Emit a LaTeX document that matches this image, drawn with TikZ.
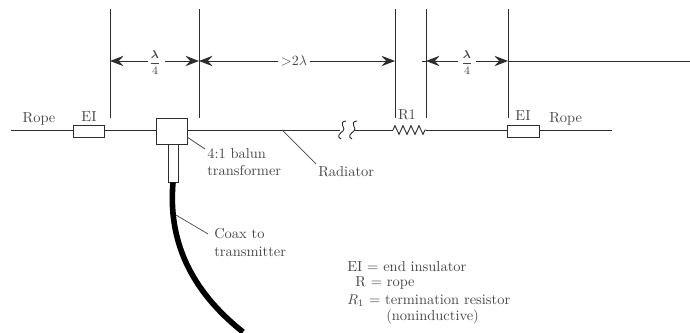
\documentclass[tikz,border=0pt]{standalone}
\usepackage{amsmath}
\usetikzlibrary{arrows.meta,decorations.pathmorphing}
\definecolor{wirecolor}{RGB}{45,45,45}
\definecolor{labelcolor}{RGB}{70,70,70}
\begin{document}
\begin{tikzpicture}[
    x=0.025cm, y=-0.025cm,
    wire/.style={draw=wirecolor, line width=0.65pt},
    tick/.style={draw=wirecolor, line width=0.7pt},
    leader/.style={draw=labelcolor, line width=0.5pt},
    dimarrow/.style={wire, -{Stealth[length=3.4mm, width=2.6mm, inset=1.2mm]}},
    insulator/.style={rectangle, draw=wirecolor, fill=white, line width=0.65pt,
        minimum width=0.78cm, minimum height=0.32cm, inner sep=0pt},
    balunbox/.style={rectangle, draw=wirecolor, fill=white, line width=0.7pt,
        minimum width=0.76cm, minimum height=0.65cm, inner sep=0pt},
    stubbox/.style={rectangle, draw=wirecolor, fill=white, line width=0.65pt,
        minimum width=0.25cm, minimum height=0.95cm, inner sep=0pt},
    textlabel/.style={font=\fontsize{10.3}{12}\selectfont, text=labelcolor, inner sep=0pt},
    notelabel/.style={textlabel, anchor=west},
    dimlabel/.style={font=\fontsize{10.3}{12}\selectfont, text=labelcolor, fill=white, inner sep=1pt},
    fraclabel/.style={font=\fontsize{8.5}{10}\selectfont, text=labelcolor, fill=white, inner sep=1pt}
]
\useasboundingbox (0,0) rectangle (690,333);

% ============================================================================
% MARCAS VERTICAIS
% ============================================================================
\foreach \name/\px in {a/110, b/199, c/395, d/426, e/508} {
    \coordinate (top_\name) at (\px, 9);
    \coordinate (bot_\name) at (\px, 118);
    \coordinate (dim_\name) at (\px, 61);
    \draw[tick] (top_\name) -- (bot_\name);
}
\coordinate (dim_dstart) at (422, 61);
\coordinate (dim_end) at (690, 61);

% ============================================================================
% COTAS
% ============================================================================
\node[fraclabel] (lab_q1) at (155, 62.5) {$\dfrac{\boldsymbol{\lambda}}{4}$};
\node[dimlabel] (lab_long) at (294, 61) {${>}2\lambda$};
\node[fraclabel] (lab_q2) at (467, 62.5) {$\dfrac{\boldsymbol{\lambda}}{4}$};

\coordinate (gap_q1l) at (148, 61);
\coordinate (gap_q1r) at (165, 61);
\coordinate (gap_q2l) at (458, 61);
\coordinate (gap_q2r) at (476, 61);
\coordinate (gap_ll) at (278, 61);
\coordinate (gap_lr) at (310, 61);

\draw[dimarrow] (gap_q1l) -- (dim_a);
\draw[dimarrow] (gap_q1r) -- (dim_b);
\draw[dimarrow] (gap_ll) -- (dim_b);
\draw[dimarrow] (gap_lr) -- (dim_c);
\draw[dimarrow] (gap_q2l) -- (dim_d);
\draw[wire] (dim_d) -- (dim_dstart);
\draw[dimarrow] (gap_q2r) -- (dim_e);
\draw[wire] (dim_e) -- (dim_end);

% ============================================================================
% ANTENA
% ============================================================================
\coordinate (rope_l) at (11, 130);
\coordinate (rope_r) at (612, 130);
\coordinate (brk1) at (340, 130);
\coordinate (brk2) at (354, 130);
\coordinate (res_l) at (393, 130);
\coordinate (res_r) at (426, 130);

\node[insulator] (ei_left) at (89, 131.5) {};
\node[insulator] (ei_right) at (523.5, 131.5) {};
\node[balunbox] (balun) at (172, 131) {};
\node[stubbox] (stub) at (173, 163) {};

\draw[wire] (rope_l) -- (rope_l -| ei_left.west);
\draw[wire] (ei_left.east |- rope_l) -- (balun.west |- rope_l);
\draw[wire] (balun.east |- rope_l) -- (brk1);
\draw[wire] (brk2) -- (res_l);
\draw[wire, decorate, decoration={zigzag, segment length=0.2cm, amplitude=0.11cm}] (res_l) -- (res_r);
\draw[wire] (res_r) -- (ei_right.west |- rope_l);
\draw[wire] (ei_right.east |- rope_l) -- (rope_r);

% Interrupcao do radiador
\foreach \dx in {0, 11} {
    \draw[wire, xshift=\dx*0.025cm] (346, 121) .. controls (337, 122) and (347, 129) .. (343, 131)
        .. controls (340, 133) and (336, 137) .. (341, 139);
}

% Cabo coaxial
\coordinate (coax_end) at (243, 332);
\draw[line width=4pt, line cap=butt, black] (stub.south) .. controls (168, 240) and (190, 290) .. (coax_end);

% ============================================================================
% ROTULOS
% ============================================================================
\node[textlabel] (lab_rope_l) at (39, 119) {Rope};
\node[textlabel] (lab_ei_l) at (89, 117) {EI};
\node[textlabel] (lab_r1) at (407, 115) {R1};
\node[textlabel] (lab_ei_r) at (523, 116) {EI};
\node[notelabel] (lab_rope_r) at (549, 119) {Rope};
\node[notelabel] (lab_balun1) at (207, 154) {4:1 balun};
\node[notelabel] (lab_balun2) at (207, 170) {transformer};
\node[notelabel] (lab_rad) at (318, 172) {Radiator};
\node[notelabel] (lab_coax1) at (214, 234) {Coax to};
\node[notelabel] (lab_coax2) at (214, 252) {transmitter};

\coordinate (lead_balun) at (187, 137);
\coordinate (lead_balun_e) at (205, 149);
\coordinate (lead_rad) at (282, 130);
\coordinate (lead_rad_e) at (316, 164);
\coordinate (lead_coax) at (176, 215);
\coordinate (lead_coax_e) at (208, 234);
\draw[leader] (lead_balun) -- (lead_balun_e);
\draw[leader] (lead_rad) -- (lead_rad_e);
\draw[leader] (lead_coax) -- (lead_coax_e);

% ============================================================================
% LEGENDA
% ============================================================================
\node[notelabel] (leg_ei) at (347, 267) {EI = end insulator};
\node[notelabel] (leg_r) at (355, 283) {R = rope};
\node[notelabel] (leg_r1) at (347, 301) {$R_1$ = termination resistor};
\node[notelabel] (leg_note) at (386, 317) {(noninductive)};

\end{tikzpicture}
\end{document}
